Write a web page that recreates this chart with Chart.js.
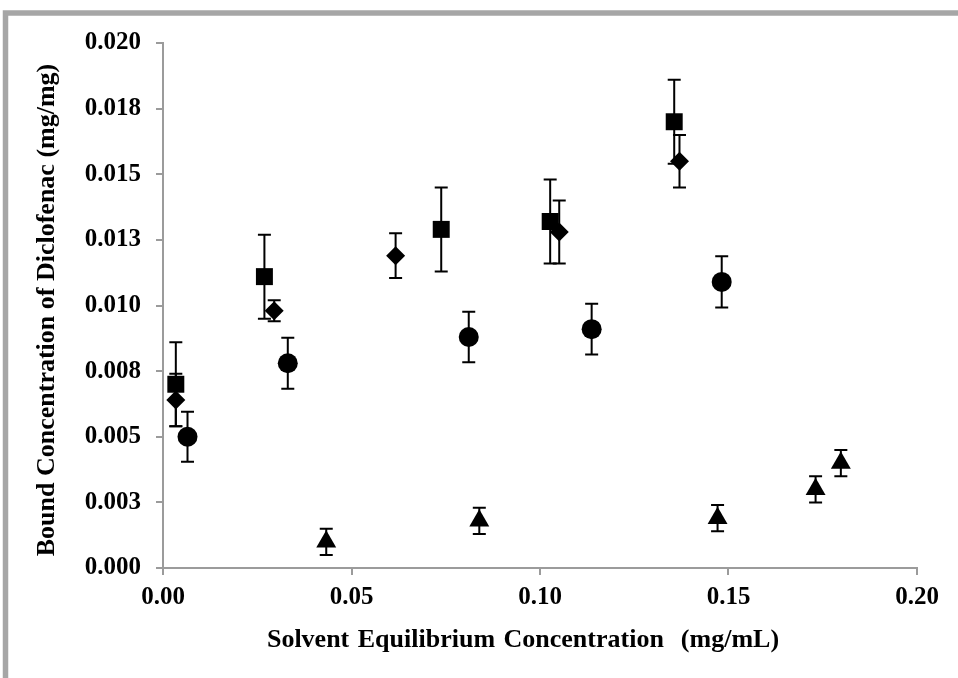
<!DOCTYPE html>
<html>
<head>
<meta charset="utf-8">
<script src="https://cdn.jsdelivr.net/npm/chart.js@4.4.1/dist/chart.umd.min.js"></script>
<style>
  html, body { margin: 0; padding: 0; background: #fff; }
  #bindingChart { display: block; }
</style>
</head>
<body>
<canvas id="bindingChart" width="958" height="678"></canvas>
<script>
// Solvent equilibrium concentration (mg/mL) vs bound diclofenac (mg/mg), +/- error
const squareX = [0.0034, 0.0269, 0.0738, 0.1027, 0.1356];
const squareY = [0.0070, 0.0111, 0.0129, 0.0132, 0.0170];
const squareErr = [0.0016, 0.0016, 0.0016, 0.0016, 0.0016];

const diamondX = [0.0034, 0.0295, 0.0617, 0.1051, 0.1370];
const diamondY = [0.0064, 0.0098, 0.0119, 0.0128, 0.0155];
const diamondErr = [0.0010, 0.0004, 0.00085, 0.0012, 0.0010];

const circleX = [0.0065, 0.0331, 0.0811, 0.1137, 0.1482];
const circleY = [0.0050, 0.0078, 0.0088, 0.0091, 0.0109];
const circleErr = [0.00095, 0.00097, 0.00096, 0.00097, 0.00098];

const triangleX = [0.0433, 0.0839, 0.1471, 0.1731, 0.1798];
const triangleY = [0.0010, 0.0018, 0.0019, 0.0030, 0.0040];
const triangleErr = [0.0005, 0.0005, 0.0005, 0.0005, 0.0005];

const xTickLabels = ['0.00', '0.05', '0.10', '0.15', '0.20'];
const yTickLabels = ['0.000', '0.003', '0.005', '0.008', '0.010', '0.013', '0.015', '0.018', '0.020'];

const xTitle = 'Solvent Equilibrium Concentration  (mg/mL)';
const yTitle = 'Bound Concentration of Diclofenac (mg/mg)';

const FONT_FAMILY = '"Liberation Serif", "Times New Roman", serif';
const AXIS_GREY = '#9b9b9b';

function points(xs, ys) {
    return xs.map((x, i) => ({ x: x, y: ys[i] }));
}

function series(label, xs, ys, errs, style, radius) {
    return {
        label: label,
        data: points(xs, ys),
        errors: errs,
        pointStyle: style,
        pointRadius: radius,
        pointHoverRadius: radius,
        backgroundColor: '#000',
        borderColor: '#000',
        borderWidth: 0,
        showLine: false
    };
}

// vertical error bars with caps, placed through the chart's own scales
const errorBars = {
    id: 'errorBars',
    beforeDatasetsDraw(chart) {
        const { ctx, scales: { x, y } } = chart;
        ctx.save();
        ctx.strokeStyle = '#000';
        ctx.lineWidth = 2;
        chart.data.datasets.forEach(ds => {
            ds.data.forEach((p, i) => {
                const err = ds.errors[i];
                const px = x.getPixelForValue(p.x);
                const top = y.getPixelForValue(p.y + err);
                const bot = y.getPixelForValue(p.y - err);
                ctx.beginPath();
                ctx.moveTo(px, top);
                ctx.lineTo(px, bot);
                ctx.moveTo(px - 6.5, top);
                ctx.lineTo(px + 6.5, top);
                ctx.moveTo(px - 6.5, bot);
                ctx.lineTo(px + 6.5, bot);
                ctx.stroke();
            });
        });
        ctx.restore();
    }
};

// grey outer frame and the two axis titles
const frameAndTitles = {
    id: 'frameAndTitles',
    afterDraw(chart) {
        const ctx = chart.ctx;
        ctx.save();
        ctx.strokeStyle = '#a6a6a6';
        ctx.lineWidth = 5.5;
        ctx.strokeRect(5.5, 13, 2000, 2000);

        ctx.fillStyle = '#000';
        ctx.font = 'bold 26px ' + FONT_FAMILY;
        ctx.textAlign = 'center';
        ctx.textBaseline = 'middle';
        ctx.wordSpacing = '2px';
        ctx.fillText(xTitle, 523, 640);

        ctx.wordSpacing = '0px';
        ctx.translate(47, 310);
        ctx.rotate(-Math.PI / 2);
        ctx.fillText(yTitle, 0, 0);
        ctx.restore();
    }
};

const tickFont = { family: FONT_FAMILY, size: 25, weight: 'bold' };

new Chart(document.getElementById('bindingChart'), {
    type: 'scatter',
    data: {
        datasets: [
            series('Square', squareX, squareY, squareErr, 'rect', 12),
            series('Diamond', diamondX, diamondY, diamondErr, 'rectRot', 9.5),
            series('Circle', circleX, circleY, circleErr, 'circle', 10),
            series('Triangle', triangleX, triangleY, triangleErr, 'triangle', 11.5)
        ]
    },
    options: {
        responsive: false,
        animation: false,
        layout: { padding: { top: 43, right: 41, left: 0, bottom: 0 } },
        plugins: {
            legend: { display: false },
            tooltip: { enabled: false }
        },
        scales: {
            x: {
                type: 'linear',
                min: 0,
                max: 0.2,
                ticks: {
                    stepSize: 0.05,
                    padding: 8,
                    color: '#000',
                    font: tickFont,
                    callback: (v, i) => xTickLabels[i]
                },
                grid: { drawOnChartArea: false, tickLength: 7, color: AXIS_GREY, lineWidth: 2 },
                border: { color: AXIS_GREY, width: 2 },
                afterFit: scale => { scale.height = 110; }
            },
            y: {
                type: 'linear',
                min: 0,
                max: 0.02,
                ticks: {
                    stepSize: 0.0025,
                    padding: 15,
                    color: '#000',
                    font: tickFont,
                    callback: (v, i) => yTickLabels[i]
                },
                grid: { drawOnChartArea: false, tickLength: 7, color: AXIS_GREY, lineWidth: 2 },
                border: { color: AXIS_GREY, width: 2 },
                afterFit: scale => { scale.width = 163; }
            }
        }
    },
    plugins: [errorBars, frameAndTitles]
});
</script>
</body>
</html>
